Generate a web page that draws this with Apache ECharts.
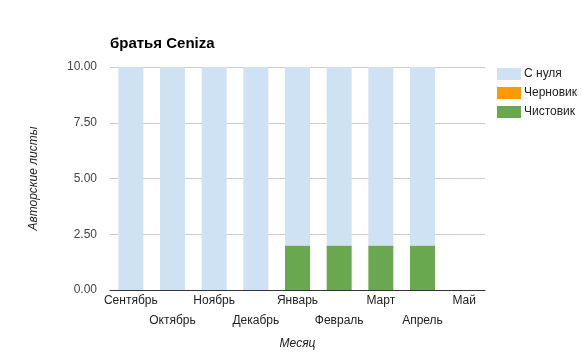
<!DOCTYPE html>
<html>
<head>
<meta charset="utf-8">
<script src="https://cdn.jsdelivr.net/npm/echarts@6/dist/echarts.min.js"></script>
<style>html,body{margin:0;padding:0;background:#fff}#chart{width:582px;height:354px}</style>
</head>
<body>
<div id="chart"></div>
<script>
const months = ['Сентябрь','Октябрь','Ноябрь','Декабрь','Январь','Февраль','Март','Апрель','Май'];
const fromScratch = [10,10,10,10,8,8,8,8,0];
const draft = [0,0,0,0,0,0,0,0,0];
const clean = [0,0,0,0,2,2,2,2,0];
const yTicks = {min:0,max:10,interval:2.5};

const chart = echarts.init(document.getElementById('chart'));
const font = 'Arial, "Liberation Sans", sans-serif';
chart.setOption({
    animation:false,
    textStyle:{fontFamily:font},
    title:{
        text:'братья Ceniza',
        left:110, top:36, padding:0,
        textStyle:{fontSize:15,fontWeight:'bold',color:'#000',fontFamily:font}
    },
    legend:{
        orient:'vertical',
        left:497, top:68, padding:0,
        itemWidth:24, itemHeight:12, itemGap:7,
        icon:'rect',
        data:['С нуля','Черновик','Чистовик'],
        textStyle:{fontSize:12,color:'#222',fontFamily:font,padding:[0,0,0,-2]}
    },
    grid:{left:110,right:97,top:67,bottom:64,outerBoundsMode:'none'},
    xAxis:{
        type:'category',
        data:months,
        name:'Месяц',
        nameLocation:'middle',
        nameGap:48,
        nameTextStyle:{fontStyle:'italic',fontSize:12,color:'#222',fontFamily:font},
        axisTick:{show:false},
        axisLine:{lineStyle:{color:'#333'}},
        axisLabel:{
            interval:0,
            fontSize:12, color:'#222', margin:1, lineHeight:20,
            formatter:(v,i)=> i%2 ? '\n'+v : v
        }
    },
    yAxis:{
        type:'value',
        min:yTicks.min, max:yTicks.max, interval:yTicks.interval,
        name:'Авторские листы',
        nameLocation:'middle',
        nameGap:70,
        nameTextStyle:{fontStyle:'italic',fontSize:12,color:'#222',fontFamily:font},
        axisLine:{show:false},
        axisTick:{show:false},
        splitLine:{lineStyle:{color:'#ccc'}},
        axisLabel:{fontSize:12,color:'#444',margin:13,formatter:v=>v.toFixed(2)}
    },
    series:[
        {name:'Чистовик',type:'bar',stack:'a',data:clean,barWidth:'60%',itemStyle:{color:'#6aa84f'}},
        {name:'Черновик',type:'bar',stack:'a',data:draft,barWidth:'60%',itemStyle:{color:'#ff9900'}},
        {name:'С нуля',type:'bar',stack:'a',data:fromScratch,barWidth:'60%',itemStyle:{color:'#cfe2f3'}}
    ]
});
</script>
</body>
</html>
